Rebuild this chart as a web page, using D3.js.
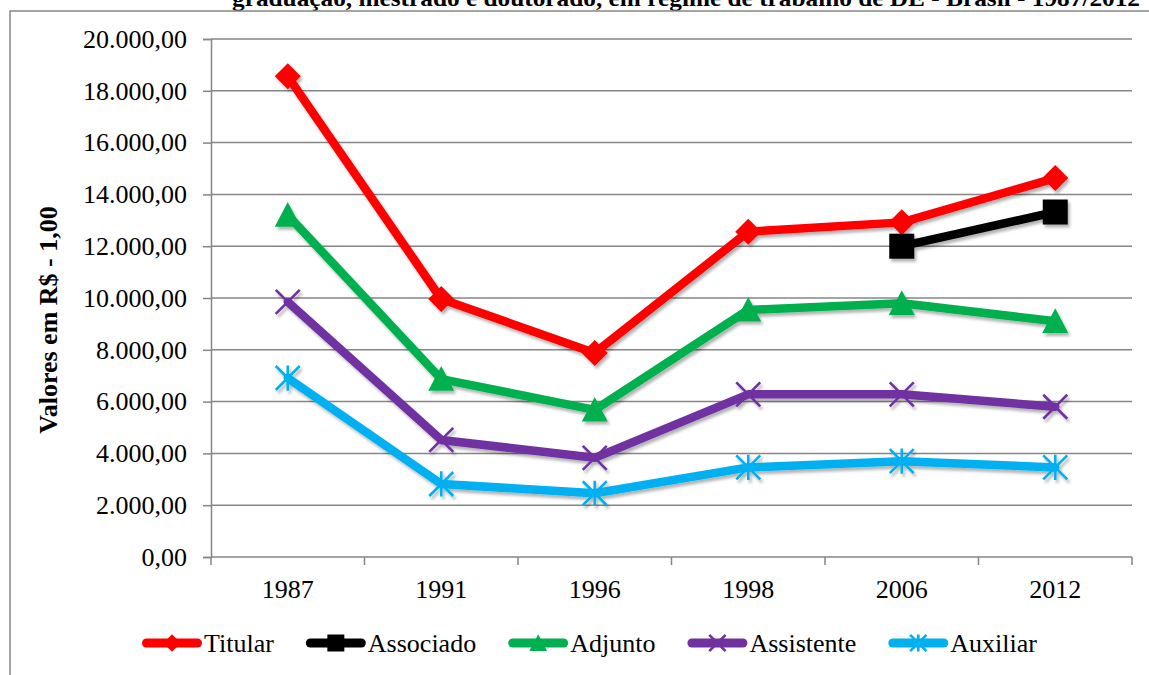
<!DOCTYPE html>
<html>
	<head>
		<meta charset="utf-8">
		<title>Valores em R$ - 1987/2012</title>
		<script src="https://d3js.org/d3.v7.min.js" charset="utf-8"></script>
		<style>
			body { margin: 0; background: #fff; }
			svg text { font-family: "Liberation Serif", Tinos, "Times New Roman", Times, "DejaVu Serif", serif; fill: #000; }
		</style>
	</head>
	<body>
		<script>
			// data
			var years = ['1987', '1991', '1996', '1998', '2006', '2012'];
			var titular = [18560, 9960, 7880, 12560, 12920, 14630];
			var associado = [null, null, null, null, 12000, 13320];
			var adjunto = [13200, 6870, 5680, 9540, 9800, 9100];
			var assistente = [9850, 4520, 3830, 6280, 6280, 5800];
			var auxiliar = [6910, 2820, 2460, 3460, 3700, 3460];
			var yTicks = [0, 2000, 4000, 6000, 8000, 10000, 12000, 14000, 16000, 18000, 20000];

			var series = [
				{ name: 'Titular', values: titular, color: '#ff0000', marker: 'diamond' },
				{ name: 'Associado', values: associado, color: '#000000', marker: 'square' },
				{ name: 'Adjunto', values: adjunto, color: '#00b050', marker: 'triangle' },
				{ name: 'Assistente', values: assistente, color: '#7030a0', marker: 'cross' },
				{ name: 'Auxiliar', values: auxiliar, color: '#00b0f0', marker: 'star' }
			];

			var FONT = '"Liberation Serif", Tinos, "Times New Roman", Times, "DejaVu Serif", serif';
			var W = 1149, H = 675;
			var svg = d3.select('body').append('svg').attr('width', W).attr('height', H)
				.attr('font-family', FONT);

			var defs = svg.append('defs');
			defs.append('filter').attr('id', 'shadow')
				.attr('x', '-20%').attr('y', '-20%').attr('width', '140%').attr('height', '140%')
				.append('feDropShadow')
				.attr('dx', 2).attr('dy', 3).attr('stdDeviation', 1.6)
				.attr('flood-color', '#000').attr('flood-opacity', 0.3);

			// title cut at the top, frame
			svg.append('text')
				.attr('x', 232).attr('y', 6)
				.attr('font-size', '24px').attr('font-weight', 'bold')
				.attr('textLength', 908).attr('lengthAdjust', 'spacingAndGlyphs')
				.text('graduação, mestrado e doutorado, em regime de trabalho de DE - Brasil - 1987/2012');

			svg.append('rect')
				.attr('x', 10).attr('y', 11)
				.attr('width', 1200).attr('height', 700)
				.attr('fill', 'none').attr('stroke', '#868686').attr('stroke-width', 1.5);

			var x = d3.scaleBand().domain(years).range([211, 1132]);
			var y = d3.scaleLinear().domain([0, 20000]).range([557, 39]);

			var loc = d3.formatLocale({ decimal: ',', thousands: '.', grouping: [3], currency: ['R$', ''] });
			var fmt = loc.format(',.2f');

			// gridlines
			svg.append('g').selectAll('line')
				.data(yTicks.filter(function (d) { return d > 0; }))
				.enter().append('line')
				.attr('x1', 211).attr('x2', 1132)
				.attr('y1', function (d) { return y(d); })
				.attr('y2', function (d) { return y(d); })
				.attr('stroke', '#868686').attr('stroke-width', 1.5);

			// y axis
			var yAxis = svg.append('g')
				.attr('transform', 'translate(211,0)')
				.call(d3.axisLeft(y).tickValues(yTicks).tickFormat(fmt).tickSize(8).tickPadding(16));
			yAxis.attr('font-family', FONT).attr('font-size', 26);
			yAxis.select('.domain').attr('stroke', '#868686').attr('stroke-width', 1.5);
			yAxis.selectAll('.tick line').attr('stroke', '#868686').attr('stroke-width', 1.5);
			yAxis.selectAll('.tick text').attr('fill', '#000');

			// x axis with ticks on band edges
			var xAxis = svg.append('g').attr('transform', 'translate(0,557)');
			xAxis.append('line').attr('x1', 211).attr('x2', 1132)
				.attr('stroke', '#868686').attr('stroke-width', 1.5);
			var edges = years.map(function (d) { return x(d); }).concat([x.range()[1]]);
			xAxis.selectAll('line.tk').data(edges).enter().append('line')
				.attr('class', 'tk')
				.attr('x1', function (d) { return d; }).attr('x2', function (d) { return d; })
				.attr('y1', 0).attr('y2', 8)
				.attr('stroke', '#868686').attr('stroke-width', 1.5);
			xAxis.selectAll('text').data(years).enter().append('text')
				.attr('x', function (d) { return x(d) + x.bandwidth() / 2; })
				.attr('y', 41)
				.attr('text-anchor', 'middle')
				.attr('font-size', '26px')
				.text(function (d) { return d; });

			svg.append('text')
				.attr('transform', 'translate(57,320) rotate(-90)')
				.attr('text-anchor', 'middle')
				.attr('font-size', '26px').attr('font-weight', 'bold')
				.text('Valores em R$ - 1,00');

			// marker drawing
			function drawMarker(g, type, color, s) {
				var r = 13 * s;
				if (type === 'diamond') {
					g.append('path').attr('d', 'M0,' + (-r) + 'L' + r + ',0L0,' + r + 'L' + (-r) + ',0Z').attr('fill', color);
				} else if (type === 'square') {
					var h = 12.5 * s;
					g.append('rect').attr('x', -h).attr('y', -h).attr('width', 2 * h).attr('height', 2 * h).attr('fill', color);
				} else if (type === 'triangle') {
					g.append('path').attr('d', 'M0,' + (-r) + 'L' + r + ',' + r * 0.9 + 'L' + (-r) + ',' + r * 0.9 + 'Z').attr('fill', color);
				} else {
					var k = 12 * s;
					var d = 'M' + (-k) + ',' + (-k) + 'L' + k + ',' + k + 'M' + k + ',' + (-k) + 'L' + (-k) + ',' + k;
					if (type === 'star') d += 'M0,' + (-k * 1.05) + 'L0,' + (k * 1.05);
					g.append('path').attr('d', d).attr('fill', 'none')
						.attr('stroke', color).attr('stroke-width', 2.6);
				}
			}

			var line = d3.line()
				.defined(function (d) { return d.v !== null; })
				.x(function (d) { return x(d.year) + x.bandwidth() / 2; })
				.y(function (d) { return y(d.v); });

			var plot = svg.append('g').attr('filter', 'url(#shadow)');
			series.forEach(function (s) {
				var pts = years.map(function (yr, i) { return { year: yr, v: s.values[i] }; });
				plot.append('path')
					.datum(pts)
					.attr('d', line)
					.attr('fill', 'none')
					.attr('stroke', s.color)
					.attr('stroke-width', 8.5)
					.attr('stroke-linejoin', 'round')
					.attr('stroke-linecap', 'round');
				pts.filter(function (d) { return d.v !== null; }).forEach(function (d) {
					var g = plot.append('g')
						.attr('transform', 'translate(' + (x(d.year) + x.bandwidth() / 2) + ',' + y(d.v) + ')');
					drawMarker(g, s.marker, s.color, 1);
				});
			});

			// legend
			var legend = svg.append('g').attr('transform', 'translate(0,643)');
			var lx = 142;
			series.forEach(function (s) {
				var item = legend.append('g');
				item.append('line')
					.attr('x1', lx + 4.5).attr('x2', lx + 55.5)
					.attr('stroke', s.color).attr('stroke-width', 9)
					.attr('stroke-linecap', 'round');
				var m = item.append('g').attr('transform', 'translate(' + (lx + 30) + ',0)');
				drawMarker(m, s.marker, s.color, 0.68);
				var t = item.append('text')
					.attr('x', lx + 62).attr('y', 9)
					.attr('font-size', '26px')
					.text(s.name);
				lx += 62 + t.node().getComputedTextLength() + 32;
			});
		</script>
	</body>
</html>
